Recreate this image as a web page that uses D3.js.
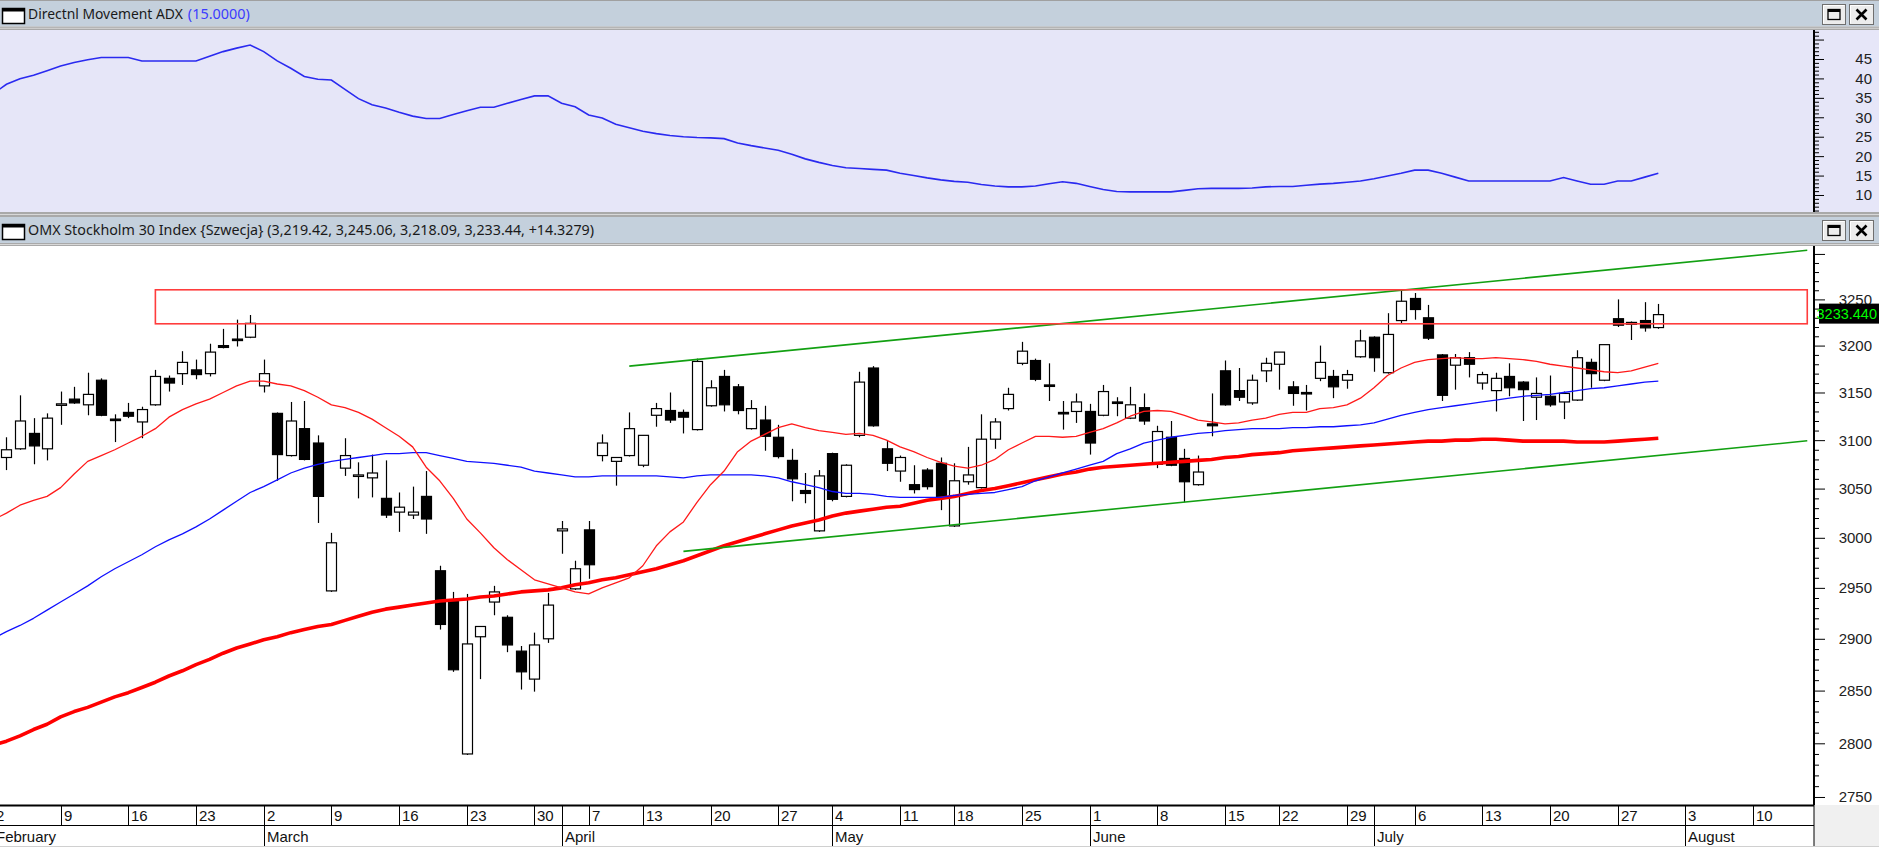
<!DOCTYPE html>
<html><head><meta charset="utf-8">
<script src="https://cdn.jsdelivr.net/npm/d3@7"></script>
<style>
html,body{margin:0;padding:0;background:#fff;overflow:hidden}
svg{display:block}
</style></head><body>
<svg id="chart" width="1879" height="847"></svg>
<script>
// ---------------- DATA ----------------
const calendarStart = "2026-02-02";
const calendarEnd = "2026-08-14";
const holidays = ["2026-04-03","2026-04-06","2026-05-01","2026-05-14","2026-06-19"];
const monthNames = ["January","February","March","April","May","June","July","August","September","October","November","December"];

const firstBarDate = "2026-02-03";
const opens = [3082,3091,3107,3091,3137,3143,3137,3163,3122,3129,3119,3137,3165,3170,3174,3170,3200,3207,3209,3157,3128,3084,3112,3097,2947,3071,3063,3061,3040,3026,3023,3042,2967,2938,2790,2902,2936,2921,2888,2861,2900,3007,2949,3008,3084,3078,3084,3074,3126,3131,3129,3111,3136,3167,3156,3112,3121,3103,3079,3048,3007,3086,3042,3105,3176,3091,3068,3054,3069,3076,3012,3057,3051,3101,3133,3181,3184,3158,3129,3130,3130,3126,3140,3123,3134,3075,3103,3081,3054,3117,3173,3152,3139,3173,3180,3156,3150,3165,3167,3163,3188,3209,3171,3227,3251,3230,3190,3179,3187,3160,3152,3167,3161,3145,3146,3140,3142,3182,3163,3229,3225,3227,3219.42];
const highs = [3103,3147,3123,3128,3151,3156,3171,3165,3127,3139,3135,3174,3168,3194,3185,3202,3218,3228,3233,3185,3129,3140,3141,3105,3005,3102,3077,3085,3079,3046,3052,3068,2972,2946,2944,2912,2952,2923,2893,2906,2945,3017,2977,3017,3106,3082,3129,3105,3139,3150,3132,3186,3163,3174,3159,3142,3136,3116,3091,3066,3069,3087,3075,3172,3178,3099,3084,3074,3071,3082,3076,3093,3127,3123,3155,3204,3186,3181,3141,3149,3138,3158,3145,3156,3149,3115,3120,3091,3084,3149,3184,3176,3169,3187,3193,3162,3158,3200,3174,3174,3217,3210,3235,3261,3257,3244,3191,3191,3193,3172,3171,3181,3162,3166,3168,3151,3195,3186,3201,3250,3226,3247,3245.06];
const lows = [3069,3090,3075,3079,3116,3138,3126,3125,3098,3123,3102,3136,3151,3158,3164,3167,3197,3199,3208,3150,3058,3083,3079,3015,2946,3063,3040,3041,3020,3006,3019,3004,2909,2868,2789,2861,2923,2887,2851,2849,2896,2984,2948,2959,3078,3053,3083,3072,3114,3118,3107,3110,3135,3130,3127,3111,3089,3081,3037,3035,3006,3037,3041,3103,3114,3068,3057,3045,3049,3028,3011,3054,3050,3091,3131,3179,3162,3141,3111,3118,3085,3125,3125,3122,3116,3071,3073,3036,3053,3104,3136,3141,3137,3161,3153,3136,3131,3162,3144,3154,3187,3172,3170,3224,3228,3206,3141,3153,3166,3153,3130,3146,3120,3121,3135,3122,3141,3155,3162,3220,3206,3215,3218.09];
const closes = [3090,3120,3094,3123,3138,3139,3148,3126,3121,3125,3132,3167,3160,3182,3169,3193,3198,3206,3224,3170,3085,3120,3080,3042,2995,3084,3064,3066,3023,3031,3026,3019,2914,2870,2895,2912,2946,2894,2868,2894,2933,3009,2969,2973,3097,3082,3112,3105,3133,3121,3124,3183,3155,3137,3131,3133,3104,3083,3060,3045,3063,3039,3074,3161,3115,3076,3082,3049,3052,3040,3058,3064,3101,3119,3148,3194,3164,3157,3128,3140,3097,3151,3139,3137,3120,3109,3074,3057,3067,3115,3137,3145,3163,3181,3193,3149,3149,3182,3156,3169,3205,3187,3212,3248,3239,3208,3147,3187,3180,3169,3165,3155,3153,3149,3137,3149,3187,3170,3201,3222,3223,3219.11,3233.44];

const indicatorStartDate = "2026-02-02";
const maShort = [3018,3025,3033,3038,3042,3051,3065,3078,3084,3090,3097,3104,3112,3124,3132,3138,3143,3150,3157,3162,3162,3159,3157,3152,3145,3137,3134,3129,3122,3113,3104,3093,3072,3058,3040,3019,3005,2990,2978,2968,2958,2954,2950,2946,2944,2950,2955,2960,2972,2992,3006,3016,3036,3054,3068,3088,3099,3106,3113,3117,3113,3110,3108,3106,3107,3105,3100,3093,3088,3082,3077,3073,3071,3074,3080,3090,3097,3104,3104,3103,3104,3108,3112,3118,3125,3130,3131,3130,3126,3121,3119,3117,3118,3121,3123,3127,3129,3129,3133,3134,3137,3144,3155,3168,3176,3182,3185,3186,3187,3186,3186,3187,3186,3185,3183,3180,3178,3176,3174,3172,3171,3173,3177,3181];
const maMid = [2900,2907,2913,2920,2928,2936,2944,2952,2961,2969,2976,2983,2991,2998,3004,3011,3019,3028,3037,3046,3052,3059,3066,3071,3075,3078,3080,3082,3084,3086,3086,3087,3087,3084,3081,3078,3077,3076,3074,3072,3068,3066,3064,3062,3062,3063,3063,3063,3063,3063,3062,3061,3063,3064,3064,3064,3064,3063,3061,3057,3054,3051,3047,3045,3045,3044,3042,3041,3041,3041,3041,3043,3044,3045,3046,3049,3052,3058,3062,3066,3070,3074,3078,3086,3091,3097,3100,3103,3105,3107,3108,3110,3111,3112,3112,3112,3113,3113,3114,3114,3115,3116,3118,3122,3126,3129,3132,3134,3136,3138,3140,3142,3144,3146,3147,3148,3150,3152,3154,3155,3157,3159,3161,3162];
const maLong = [2798,2802,2807,2813,2818,2825,2830,2834,2839,2844,2848,2853,2858,2864,2869,2875,2880,2886,2891,2895,2899,2902,2906,2909,2912,2914,2918,2922,2926,2929,2931,2933,2935,2937,2938,2939,2941,2942,2944,2946,2947,2948,2950,2953,2955,2958,2960,2963,2966,2969,2973,2977,2982,2987,2992,2996,3000,3004,3008,3012,3015,3018,3022,3025,3027,3029,3031,3032,3035,3038,3040,3042,3045,3048,3050,3053,3056,3059,3062,3065,3067,3070,3072,3073,3074,3075,3076,3077,3078,3079,3080,3082,3083,3085,3086,3087,3089,3090,3091,3092,3093,3094,3095,3096,3097,3098,3099,3099,3100,3100,3101,3101,3100,3099,3099,3099,3099,3098,3098,3098,3099,3100,3101,3102];
const adxValues = [36.0,38.5,39.9,40.8,42.0,43.2,44.1,44.8,45.4,45.4,45.4,44.5,44.5,44.5,44.5,44.5,45.7,46.9,47.8,48.6,46.9,44.5,42.6,40.5,39.8,39.6,37.2,34.8,33.2,32.4,31.3,30.3,29.7,29.7,30.7,31.7,32.6,32.6,33.6,34.6,35.5,35.5,33.6,32.7,30.6,29.8,28.2,27.3,26.4,25.8,25.3,25.0,24.8,24.7,24.5,23.4,22.7,22.1,21.5,20.5,19.3,18.4,17.6,17.0,16.8,16.6,16.4,15.6,15.0,14.4,13.9,13.5,13.3,12.7,12.3,12.1,12.1,12.3,12.9,13.4,13.0,12.2,11.4,10.9,10.8,10.8,10.8,10.8,11.2,11.6,11.7,11.7,11.7,11.8,12.1,12.2,12.2,12.5,12.8,13.0,13.3,13.6,14.2,14.9,15.6,16.4,16.4,15.6,14.6,13.6,13.6,13.6,13.6,13.6,13.6,13.6,14.5,13.6,12.75,12.75,13.6,13.6,14.6,15.6];

const adxTickLabels = [10,15,20,25,30,35,40,45];
const priceTickLabels = [2750,2800,2850,2900,2950,3000,3050,3100,3150,3200,3250];
const lastPrice = 3233.44;

const resistanceZone = {from:"2026-02-18", to:"2026-08-14", low:3223.5, high:3260.5};
const upperTrend = [{date:"2026-04-10", value:3178},{date:"2026-08-14", value:3304}];
const lowerTrend = [{date:"2026-04-16", value:2986.4},{date:"2026-08-14", value:3099.3}];

const adxTitle = "Directnl Movement ADX";
const adxParam = "(15.0000)";
const priceTitle = "OMX Stockholm 30 Index {Szwecja} (3,219.42, 3,245.06, 3,218.09, 3,233.44, +14.3279)";

// ---------------- LAYOUT ----------------
const W = 1879, H = 847;
const plotRight = 1814;
const adxTop = 30, adxBottom = 212;
const mainTop = 246, mainBottom = 805;
const axisFont = "'Liberation Sans', Arial, sans-serif";
const titleFont = "'Noto Sans', 'Open Sans', sans-serif";

function tradingDays(start, end, hol) {
  const out = []; const hs = new Set(hol);
  const e = new Date(end + "T00:00:00Z");
  for (let d = new Date(start + "T00:00:00Z"); d <= e; d.setUTCDate(d.getUTCDate() + 1)) {
    const wd = d.getUTCDay(); const s = d.toISOString().slice(0, 10);
    if (wd > 0 && wd < 6 && !hs.has(s)) out.push(s);
  }
  return out;
}
const days = tradingDays(calendarStart, calendarEnd, holidays);
const idx = new Map(days.map((d, i) => [d, i]));
const step = 13.54;
const x = d3.scalePoint().domain(days).range([-7.1, -7.1 + step * (days.length - 1)]);
const y = d3.scaleLog().domain([2742.6, 3308.8]).range([mainBottom, mainTop]);
const yA = d3.scaleLinear().domain([5.625, 52.46]).range([adxBottom, adxTop]);

const svg = d3.select("#chart");
svg.append("rect").attr("width", W).attr("height", H).attr("fill", "#fff");

const defs = svg.append("defs");
defs.append("clipPath").attr("id", "clipMain").append("rect")
  .attr("x", 0).attr("y", mainTop).attr("width", plotRight).attr("height", mainBottom - mainTop);
defs.append("clipPath").attr("id", "clipAdx").append("rect")
  .attr("x", 0).attr("y", adxTop).attr("width", plotRight).attr("height", adxBottom - adxTop);

// fit a text element's font size so that it spans the given width
function fitText(t, width, base) {
  const w = t.node().getComputedTextLength();
  if (w > 0) t.attr("font-size", (base * width / w).toFixed(2));
  return t.node().getComputedTextLength();
}

// ---------- panel chrome ----------
function header(y0, h, parts) {
  svg.append("rect").attr("x", 0).attr("y", y0).attr("width", W).attr("height", h).attr("fill", "#C4D0DC");
  svg.append("rect").attr("x", 2.5).attr("y", y0 + 7.5).attr("width", 22).attr("height", 15)
    .attr("fill", "#fff").attr("stroke", "#000").attr("stroke-width", 1.5);
  svg.append("rect").attr("x", 2.5).attr("y", y0 + 7.5).attr("width", 22).attr("height", 3).attr("fill", "#000");
  let tx = 28;
  parts.forEach(p => {
    const t = svg.append("text").attr("x", tx).attr("y", y0 + 18)
      .attr("font-family", titleFont).attr("font-size", 15).attr("fill", p.c).text(p.t);
    const w = fitText(t, p.w, 15);
    tx += w + p.gap;
  });
  [{bx: 1822, w: 23, k: "max"}, {bx: 1849, w: 24, k: "close"}].forEach(b => {
    const by = y0 + 3.5, bh = 20;
    svg.append("rect").attr("x", b.bx + 0.5).attr("y", by).attr("width", b.w).attr("height", bh)
      .attr("fill", "#ECECEC").attr("stroke", "#6F6F6F");
    svg.append("path").attr("d", `M${b.bx + 1.5},${by + bh - 1}V${by + 1}H${b.bx + b.w - 0.5}`)
      .attr("fill", "none").attr("stroke", "#fff");
    const cx = b.bx + 0.5 + b.w / 2, cy = by + bh / 2;
    if (b.k === "max") {
      svg.append("rect").attr("x", cx - 6).attr("y", cy - 5).attr("width", 12).attr("height", 10)
        .attr("fill", "none").attr("stroke", "#000").attr("stroke-width", 1.3);
      svg.append("rect").attr("x", cx - 6).attr("y", cy - 5).attr("width", 12).attr("height", 2.5).attr("fill", "#000");
    } else {
      svg.append("path").attr("d", `M${cx - 5},${cy - 5}L${cx + 5},${cy + 5}M${cx + 5},${cy - 5}L${cx - 5},${cy + 5}`)
        .attr("stroke", "#000").attr("stroke-width", 2.6);
    }
  });
}
function separator(y0, h) {
  svg.append("rect").attr("x", 0).attr("y", y0).attr("width", W).attr("height", h).attr("fill", "#A9A9A9");
  svg.append("line").attr("x1", 0).attr("x2", W).attr("y1", y0 + h / 2).attr("y2", y0 + h / 2)
    .attr("stroke", "#D8D8D8").attr("stroke-width", 1);
}
svg.append("rect").attr("x", 0).attr("y", 0).attr("width", W).attr("height", 1).attr("fill", "#A0A0A0");
header(1, 25.5, [{t: adxTitle, c: "#1a1a1a", w: 155, gap: 5}, {t: adxParam, c: "#3B3BFF", w: 62, gap: 0}]);
separator(26.5, 3.5);
svg.append("rect").attr("x", 0).attr("y", adxTop).attr("width", W).attr("height", adxBottom - adxTop).attr("fill", "#E6E6F8");
separator(adxBottom, 5);
header(217, 26, [{t: priceTitle, c: "#1a1a1a", w: 566, gap: 0}]);
separator(243, 3);
svg.append("rect").attr("x", 0).attr("y", mainTop).attr("width", W).attr("height", mainBottom - mainTop).attr("fill", "#fff");

// ---------- ADX panel ----------
const gA = svg.append("g").attr("clip-path", "url(#clipAdx)");
const adxData = adxValues.map((v, k) => ({d: days[idx.get(indicatorStartDate) + k], v}));
gA.append("path").datum(adxData)
  .attr("d", d3.line().x(p => x(p.d)).y(p => yA(p.v)))
  .attr("fill", "none").attr("stroke", "#2A2AF0").attr("stroke-width", 1.6);

const adxMinor = d3.range(6, 53, 1).filter(v => yA(v) >= adxTop + 1 && yA(v) <= adxBottom);
const adxAxisG = svg.append("g").attr("transform", `translate(${plotRight},0)`);
adxAxisG.call(d3.axisRight(yA).tickValues(adxMinor).tickSize(5).tickFormat(""));
adxAxisG.selectAll(".tick line").attr("stroke", "#000").attr("x2", v => v % 5 === 0 ? 10 : 5).attr("stroke-width", 1);
adxAxisG.select(".domain").remove();
svg.append("line").attr("x1", plotRight).attr("x2", plotRight).attr("y1", adxTop).attr("y2", adxBottom)
  .attr("stroke", "#000").attr("stroke-width", 2);
svg.append("g").selectAll("text").data(adxTickLabels).join("text")
  .attr("x", 1872).attr("y", v => yA(v)).attr("dy", "0.36em").attr("text-anchor", "end")
  .attr("font-family", axisFont).attr("font-size", 15).attr("fill", "#222").text(v => v);

// ---------- Main panel ----------
const gM = svg.append("g").attr("clip-path", "url(#clipMain)");
const bars = opens.map((o, k) => ({d: days[idx.get(firstBarDate) + k], o, h: highs[k], l: lows[k], c: closes[k]}));
const cg = gM.append("g");
bars.forEach(b => {
  const cx = Math.round(x(b.d)) + 0.5;
  cg.append("line").attr("x1", cx).attr("x2", cx).attr("y1", y(b.h)).attr("y2", y(b.l))
    .attr("stroke", "#000").attr("stroke-width", 1.2);
  const top = y(Math.max(b.o, b.c)), bot = y(Math.min(b.o, b.c));
  cg.append("rect").attr("x", cx - 5).attr("y", top).attr("width", 10).attr("height", Math.max(1.5, bot - top))
    .attr("fill", b.c >= b.o ? "#fff" : "#000").attr("stroke", "#000").attr("stroke-width", 1.2);
});

function maPath(arr, color, w) {
  const data = arr.map((v, k) => ({d: days[idx.get(indicatorStartDate) + k], v}));
  gM.append("path").datum(data).attr("d", d3.line().x(p => x(p.d)).y(p => y(p.v)))
    .attr("fill", "none").attr("stroke", color).attr("stroke-width", w).attr("stroke-linejoin", "round");
}
maPath(maLong, "#FF0000", 3.6);
maPath(maMid, "#1010FF", 1.3);
maPath(maShort, "#FF1A1A", 1.3);

[upperTrend, lowerTrend].forEach(tr => {
  gM.append("line").attr("x1", x(tr[0].date)).attr("y1", y(tr[0].value))
    .attr("x2", x(tr[1].date)).attr("y2", y(tr[1].value))
    .attr("stroke", "#12A012").attr("stroke-width", 1.6);
});
gM.append("rect").attr("x", x(resistanceZone.from)).attr("y", y(resistanceZone.high))
  .attr("width", x(resistanceZone.to) - x(resistanceZone.from))
  .attr("height", y(resistanceZone.low) - y(resistanceZone.high))
  .attr("fill", "none").attr("stroke", "#FF3C3C").attr("stroke-width", 1.6);

const pMinor = d3.range(2750, 3310, 10).filter(v => y(v) >= mainTop + 1 && y(v) <= mainBottom - 1);
const pAxisG = svg.append("g").attr("transform", `translate(${plotRight},0)`);
pAxisG.call(d3.axisRight(y).tickValues(pMinor).tickSize(5).tickFormat(""));
pAxisG.selectAll(".tick line").attr("stroke", "#000").attr("x2", v => v % 50 === 0 ? 11 : 5).attr("stroke-width", 1);
pAxisG.select(".domain").remove();
svg.append("line").attr("x1", plotRight).attr("x2", plotRight).attr("y1", mainTop).attr("y2", mainBottom)
  .attr("stroke", "#000").attr("stroke-width", 2);
svg.append("g").selectAll("text").data(priceTickLabels).join("text")
  .attr("x", 1872).attr("y", v => y(v)).attr("dy", "0.36em").attr("text-anchor", "end")
  .attr("font-family", axisFont).attr("font-size", 15).attr("fill", "#222").text(v => v);
const ly = y(lastPrice);
svg.append("rect").attr("x", 1819).attr("y", ly - 11).attr("width", 60).attr("height", 20).attr("fill", "#000");
svg.append("text").attr("x", 1877).attr("y", ly - 1).attr("dy", "0.36em").attr("text-anchor", "end")
  .attr("font-family", axisFont).attr("font-size", 14.5).attr("fill", "#00FF00").text(lastPrice.toFixed(3));

// ---------- X axis ----------
const axTop = 805, axMid = 825, axBot = 847;
svg.append("rect").attr("x", 0).attr("y", axTop).attr("width", plotRight).attr("height", axBot - axTop).attr("fill", "#fff");
svg.append("rect").attr("x", plotRight).attr("y", axTop).attr("width", W - plotRight).attr("height", axBot - axTop).attr("fill", "#F0F0F0");
const xa = svg.append("g");
const weekStarts = days.filter((d, i) => i === 0 ||
  new Date(d + "T00:00:00Z").getUTCDay() <= new Date(days[i - 1] + "T00:00:00Z").getUTCDay());
const monthStarts = days.filter((d, i) => i === 0 || d.slice(5, 7) !== days[i - 1].slice(5, 7));
xa.selectAll("line.wk").data(weekStarts).join("line").attr("class", "wk")
  .attr("x1", d => Math.round(x(d)) + 0.5).attr("x2", d => Math.round(x(d)) + 0.5)
  .attr("y1", axTop).attr("y2", axMid).attr("stroke", "#000");
xa.selectAll("text.wk").data(weekStarts).join("text").attr("class", "wk")
  .attr("x", d => Math.round(x(d)) + 3).attr("y", 821)
  .attr("font-family", axisFont).attr("font-size", 15).attr("fill", "#111")
  .text(d => +d.slice(8, 10));
xa.selectAll("line.mo").data(monthStarts).join("line").attr("class", "mo")
  .attr("x1", d => Math.round(x(d)) + 0.5).attr("x2", d => Math.round(x(d)) + 0.5)
  .attr("y1", axTop).attr("y2", axBot).attr("stroke", "#000");
xa.selectAll("text.mo").data(monthStarts).join("text").attr("class", "mo")
  .attr("x", d => Math.round(x(d)) + 3).attr("y", 842)
  .attr("font-family", axisFont).attr("font-size", 15).attr("fill", "#111")
  .text(d => monthNames[+d.slice(5, 7) - 1]);
xa.append("line").attr("x1", 0).attr("x2", plotRight).attr("y1", axTop + 0.5).attr("y2", axTop + 0.5)
  .attr("stroke", "#000").attr("stroke-width", 2);
xa.append("line").attr("x1", 0).attr("x2", plotRight).attr("y1", axMid + 0.5).attr("y2", axMid + 0.5)
  .attr("stroke", "#000").attr("stroke-width", 1);
xa.append("line").attr("x1", plotRight).attr("x2", plotRight).attr("y1", axTop).attr("y2", axBot)
  .attr("stroke", "#000").attr("stroke-width", 1);
xa.append("line").attr("x1", 0).attr("x2", W).attr("y1", 846.5).attr("y2", 846.5).attr("stroke", "#D0D0D0");
</script>
</body></html>
